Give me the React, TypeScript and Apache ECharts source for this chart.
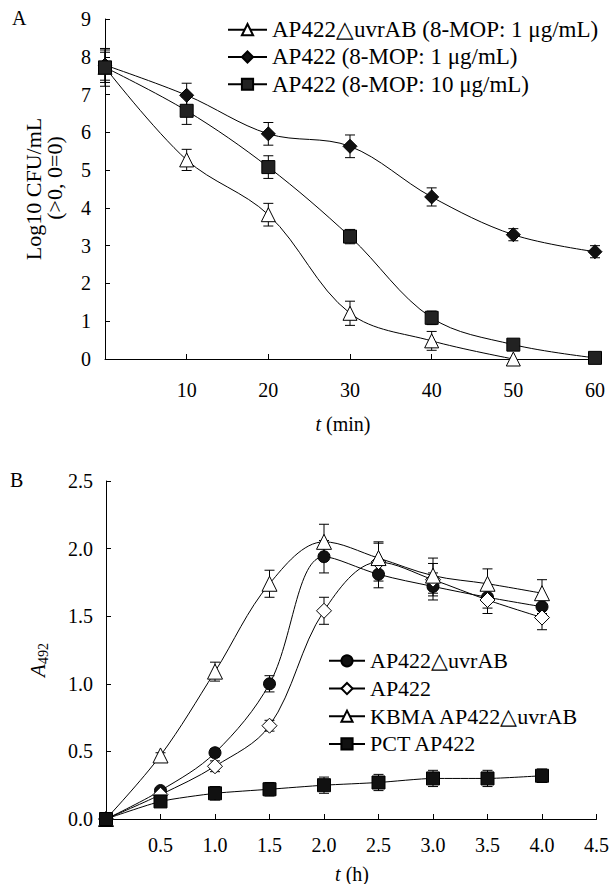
import React, { useEffect, useRef } from "react";
import * as echarts from "echarts";

// ---- Panel A data ----
const topX = [0, 10, 20, 30, 40, 50, 60];
const topTriangle = [7.72, 5.27, 3.82, 1.21, 0.48, 0];
const topTriangleErr = [0.5, 0.28, 0.3, 0.32, 0.25, 0];
const topDiamond = [7.78, 6.98, 5.96, 5.63, 4.29, 3.29, 2.84];
const topDiamondErr = [0.4, 0.32, 0.3, 0.3, 0.24, 0.16, 0.16];
const topSquare = [7.72, 6.57, 5.08, 3.24, 1.09, 0.38, 0.03];
const topSquareErr = [0.4, 0.36, 0.3, 0.19, 0.18, 0, 0.06];
const topNames = [
  "AP422\u25B3uvrAB (8-MOP: 1 \u03BCg/mL)",
  "AP422 (8-MOP: 1 \u03BCg/mL)",
  "AP422 (8-MOP: 10 \u03BCg/mL)",
];

// ---- Panel B data ----
const botX = [0, 0.5, 1.0, 1.5, 2.0, 2.5, 3.0, 3.5, 4.0];
const botCircle = [0, 0.21, 0.49, 1.0, 1.94, 1.81, 1.72, 1.64, 1.57];
const botCircleErr = [0, 0.02, 0.03, 0.06, 0.12, 0.1, 0.1, 0.08, 0.05];
const botDiamond = [0, 0.18, 0.39, 0.69, 1.54, 1.9, 1.77, 1.62, 1.49];
const botDiamondErr = [0, 0.02, 0.04, 0.04, 0.1, 0.14, 0.12, 0.1, 0.09];
const botTriangle = [0, 0.47, 1.09, 1.74, 2.05, 1.93, 1.8, 1.74, 1.67];
const botTriangleErr = [0, 0.02, 0.07, 0.1, 0.13, 0.12, 0.13, 0.11, 0.1];
const botSquare = [0, 0.13, 0.19, 0.22, 0.25, 0.27, 0.3, 0.3, 0.32];
const botSquareErr = [0, 0.02, 0.05, 0.05, 0.06, 0.06, 0.06, 0.06, 0.05];
const botNames = ["AP422\u25B3uvrAB", "AP422", "KBMA AP422\u25B3uvrAB", "PCT AP422"];

const FONT = "Liberation Serif, Times New Roman, serif";

function pairs(xs: number[], ys: number[]) {
  return ys.map((y, i) => [xs[i], y]);
}
function errs(xs: number[], ys: number[], es: number[]) {
  const out: number[][] = [];
  ys.forEach((y, i) => {
    if (es[i] > 0) out.push([xs[i], y - es[i], y + es[i]]);
  });
  return out;
}

function errSeries(data: number[][], gi: number) {
  return {
    type: "custom",
    xAxisIndex: gi,
    yAxisIndex: gi,
    z: 1,
    silent: true,
    encode: { x: 0, y: [1, 2] },
    data,
    renderItem: (params: any, api: any) => {
      const x = api.value(0);
      const lo = api.coord([x, api.value(1)]);
      const hi = api.coord([x, api.value(2)]);
      const w = 5;
      const st = { stroke: "#000", lineWidth: 1 };
      return {
        type: "group",
        children: [
          { type: "line", shape: { x1: lo[0], y1: lo[1], x2: hi[0], y2: hi[1] }, style: st },
          { type: "line", shape: { x1: lo[0] - w, y1: lo[1], x2: lo[0] + w, y2: lo[1] }, style: st },
          { type: "line", shape: { x1: hi[0] - w, y1: hi[1], x2: hi[0] + w, y2: hi[1] }, style: st },
        ],
      };
    },
  };
}

function lineSeries(name: string, data: number[][], gi: number, symbol: string, size: number, fill: string, smooth: any) {
  return {
    type: "line",
    name,
    xAxisIndex: gi,
    yAxisIndex: gi,
    z: 3,
    data,
    smooth,
    symbol,
    symbolSize: size,
    showAllSymbol: true,
    lineStyle: { color: "#000", width: 1 },
    itemStyle: { color: fill, borderColor: "#000", borderWidth: 1 },
    emphasis: { disabled: true },
  };
}

const axisCommon = {
  axisLine: { show: true, onZero: false, lineStyle: { color: "#000", width: 1 } },
  axisTick: { show: true, inside: true, length: 5, lineStyle: { color: "#000" } },
  splitLine: { show: false },
};

export default function App() {
  const ref = useRef<HTMLDivElement>(null);
  useEffect(() => {
    if (!ref.current) return;
    const chart = echarts.init(ref.current, undefined, { renderer: "svg" });
    const tickText = { color: "#000", fontFamily: FONT, fontSize: 20 };
    const option: any = {
      animation: false,
      backgroundColor: "#fff",
      grid: [
        { left: 105, right: 17, top: 19, bottom: 525 },
        { left: 106, right: 15, top: 481, bottom: 65 },
      ],
      xAxis: [
        {
          gridIndex: 0, type: "value", min: 0, max: 60, interval: 10, ...axisCommon,
          axisLabel: { ...tickText, margin: 21, showMinLabel: false },
        },
        {
          gridIndex: 1, type: "value", min: 0, max: 4.5, interval: 0.5, ...axisCommon,
          axisLabel: { ...tickText, margin: 16, showMinLabel: false, formatter: (v: number) => v.toFixed(1) },
        },
      ],
      yAxis: [
        {
          gridIndex: 0, type: "value", min: 0, max: 9, interval: 1, ...axisCommon,
          axisLabel: { ...tickText, margin: 14 },
        },
        {
          gridIndex: 1, type: "value", min: 0, max: 2.5, interval: 0.5, ...axisCommon,
          axisLabel: { ...tickText, margin: 13, formatter: (v: number) => v.toFixed(1) },
        },
      ],
      legend: [
        {
          data: topNames,
          orient: "vertical",
          left: 222,
          top: 11,
          itemWidth: 39,
          itemHeight: 14,
          itemGap: 0,
          selectedMode: false,
          textStyle: { color: "#000", fontFamily: FONT, fontSize: 23, lineHeight: 27.3 },
        },
        {
          data: botNames,
          orient: "vertical",
          left: 323,
          top: 642,
          itemWidth: 36,
          itemHeight: 14,
          itemGap: 0,
          selectedMode: false,
          textStyle: { color: "#000", fontFamily: FONT, fontSize: 22, lineHeight: 27.7 },
        },
      ],
      graphic: [
        { type: "text", left: 12, top: 8, style: { text: "A", fontFamily: FONT, fontSize: 20, fill: "#000" } },
        { type: "text", left: 10, top: 470, style: { text: "B", fontFamily: FONT, fontSize: 20, fill: "#000" } },
        {
          type: "text", x: 33, y: 189, rotation: Math.PI / 2,
          style: { text: "Log10 CFU/mL", fontFamily: FONT, fontSize: 22, fill: "#000", align: "center", verticalAlign: "middle" },
        },
        {
          type: "text", x: 54, y: 178, rotation: Math.PI / 2,
          style: { text: "(>0, 0=0)", fontFamily: FONT, fontSize: 22, fill: "#000", align: "center", verticalAlign: "middle" },
        },
        {
          type: "text", x: 343, y: 424,
          style: {
            text: "{i|t} (min)", fontFamily: FONT, fontSize: 20, fill: "#000", align: "center", verticalAlign: "middle",
            rich: { i: { fontStyle: "italic", fontFamily: FONT, fontSize: 20 } },
          },
        },
        {
          type: "text", x: 352, y: 874,
          style: {
            text: "{i|t} (h)", fontFamily: FONT, fontSize: 20, fill: "#000", align: "center", verticalAlign: "middle",
            rich: { i: { fontStyle: "italic", fontFamily: FONT, fontSize: 20 } },
          },
        },
        {
          type: "text", x: 38, y: 660, rotation: Math.PI / 2,
          style: {
            text: "{a|A}{s|492}", fill: "#000", align: "center", verticalAlign: "middle",
            rich: {
              a: { fontStyle: "italic", fontFamily: FONT, fontSize: 21 },
              s: { fontFamily: FONT, fontSize: 14, padding: [10, 0, 0, 0] },
            },
          },
        },
      ],
      series: [
        errSeries(errs(topX, topTriangle, topTriangleErr), 0),
        errSeries(errs(topX, topDiamond, topDiamondErr), 0),
        errSeries(errs(topX, topSquare, topSquareErr), 0),
        lineSeries(topNames[0], pairs(topX, topTriangle), 0, "triangle", 14, "#fff", 0.35),
        lineSeries(topNames[1], pairs(topX, topDiamond), 0, "diamond", 14, "#111", 0.35),
        lineSeries(topNames[2], pairs(topX, topSquare), 0, "rect", 13, "#222", 0.35),
        errSeries(errs(botX, botCircle, botCircleErr), 1),
        errSeries(errs(botX, botDiamond, botDiamondErr), 1),
        errSeries(errs(botX, botTriangle, botTriangleErr), 1),
        errSeries(errs(botX, botSquare, botSquareErr), 1),
        lineSeries(botNames[0], pairs(botX, botCircle), 1, "circle", 12, "#111", 0.35),
        lineSeries(botNames[1], pairs(botX, botDiamond), 1, "diamond", 15, "#fff", 0.35),
        lineSeries(botNames[2], pairs(botX, botTriangle), 1, "triangle", 15, "#fff", 0.35),
        lineSeries(botNames[3], pairs(botX, botSquare), 1, "rect", 13, "#111", 0.2),
      ],
    };
    chart.setOption(option);
    return () => chart.dispose();
  }, []);
  return (
    <div
      ref={ref}
      style={{ position: "absolute", left: 0, top: 0, width: 612, height: 884, background: "#fff" }}
    />
  );
}
